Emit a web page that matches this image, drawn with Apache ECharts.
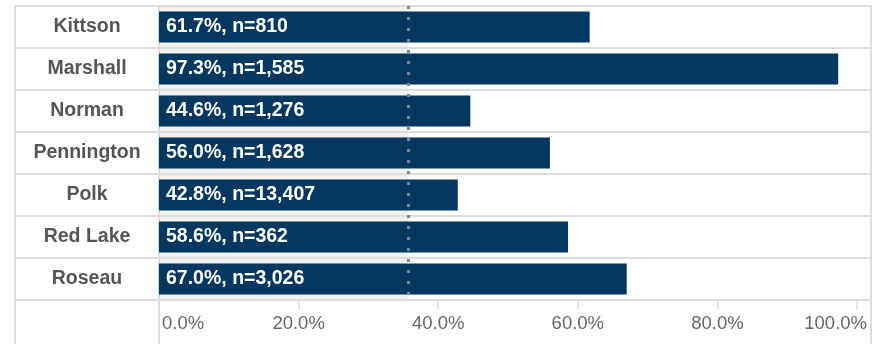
<!DOCTYPE html>
<html>
<head>
<meta charset="utf-8">
<script src="https://cdn.jsdelivr.net/npm/echarts@6/dist/echarts.min.js"></script>
<style>
  html, body { margin: 0; padding: 0; background: #fff; }
  #chart { width: 880px; height: 344px; }
</style>
</head>
<body>
<div id="chart"></div>
<script>
// County shares with sample sizes
const counties = ['Kittson', 'Marshall', 'Norman', 'Pennington', 'Polk', 'Red Lake', 'Roseau'];
const shares = [61.7, 97.3, 44.6, 56.0, 42.8, 58.6, 67.0];
const counts = [810, 1585, 1276, 1628, 13407, 362, 3026];
const referenceShare = 35.7;
const tickValues = [0, 20, 40, 60, 80, 100];

const FONT = 'Arial, "Liberation Sans", Helvetica, sans-serif';
const LINE = '#dddddd';
const W = 880, H = 344;
const frameLeft = 15, gridLeft = 159, gridRight = 871, gridTop = 6, gridBottom = 300;

const chart = echarts.init(document.getElementById('chart'), null, { renderer: 'canvas' });

chart.setOption({
  animation: false,
  backgroundColor: '#ffffff',
  grid: {
    left: gridLeft, right: W - gridRight, top: gridTop, bottom: H - gridBottom,
    show: true, borderColor: LINE, borderWidth: 2, backgroundColor: 'transparent'
  },
  xAxis: {
    type: 'value', min: 0, max: 102,
    axisLine: { show: false },
    splitLine: { show: false },
    axisTick: { show: true, customValues: tickValues, length: 10, lineStyle: { color: LINE, width: 1.5 } },
    axisLabel: {
      customValues: tickValues,
      margin: 14,
      color: '#666666', fontFamily: FONT, fontSize: 18.5,
      alignMinLabel: 'left', alignMaxLabel: 'right',
      formatter: v => v === 0 ? '{a|0.0%}' : v === 100 ? '{b|100.0%}' : v.toFixed(1) + '%',
      rich: {
        a: { color: '#666666', fontFamily: FONT, fontSize: 18.5, padding: [0, 0, 0, 3] },
        b: { color: '#666666', fontFamily: FONT, fontSize: 18.5, padding: [0, -10, 0, 0] }
      }
    }
  },
  yAxis: {
    type: 'category', data: counties, inverse: true, z: 2,
    axisLine: { show: true, lineStyle: { color: LINE, width: 2 } },
    axisTick: { show: true, length: gridLeft - frameLeft, lineStyle: { color: LINE, width: 2 } },
    splitLine: { show: true, lineStyle: { color: LINE, width: 2 } },
    axisLabel: {
      align: 'center', margin: (gridLeft - frameLeft) / 2,
      color: '#555555', fontFamily: FONT, fontSize: 19.5, fontWeight: 'bold'
    }
  },
  series: [
    {
      // shaded band up to the reference share
      type: 'line', data: [], z: 1, silent: true,
      markArea: {
        silent: true,
        itemStyle: { color: '#f1f1f1' },
        data: [[{ xAxis: 0 }, { xAxis: referenceShare }]]
      }
    },
    {
      type: 'bar', z: 3,
      data: shares,
      barWidth: 31,
      itemStyle: { color: '#02375f' },
      label: {
        show: true, position: 'insideLeft', distance: 7,
        color: '#ffffff', fontFamily: FONT, fontSize: 19.5, fontWeight: 'bold',
        formatter: p => shares[p.dataIndex].toFixed(1) + '%, n=' + counts[p.dataIndex].toLocaleString('en-US')
      },
      markLine: {
        silent: true, symbol: 'none',
        label: { show: false },
        lineStyle: { color: '#80868b', type: [3, 8], width: 3, cap: 'butt' },
        data: [{ xAxis: referenceShare }]
      }
    }
  ],
  graphic: [
    { type: 'line', shape: { x1: frameLeft, y1: gridTop - 1, x2: frameLeft, y2: H }, style: { stroke: LINE, lineWidth: 2 }, silent: true },
    { type: 'line', shape: { x1: gridLeft, y1: gridBottom, x2: gridLeft, y2: H }, style: { stroke: LINE, lineWidth: 2 }, silent: true },
    { type: 'line', shape: { x1: gridRight, y1: gridBottom, x2: gridRight, y2: H }, style: { stroke: LINE, lineWidth: 2 }, silent: true }
  ]
});
</script>
</body>
</html>
